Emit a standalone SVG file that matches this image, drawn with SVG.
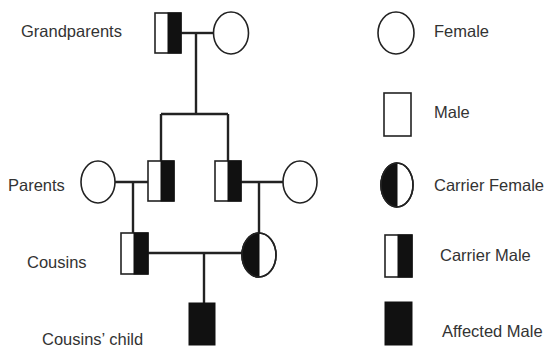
<svg xmlns="http://www.w3.org/2000/svg" width="550" height="347" viewBox="0 0 550 347">
<style>
.sh{fill:#fff;stroke:#222;stroke-width:1.6}
.bk{fill:#111;stroke:#111;stroke-width:1}
.ln{stroke:#222;stroke-width:2.4;fill:none}
text{font-family:"Liberation Sans",Arial,sans-serif;font-size:16.5px;fill:#333}
</style>
<rect width="550" height="347" fill="#fff"/>
<g id="connectors">
<line class="ln" x1="181" y1="33" x2="213" y2="33"/>
<line class="ln" x1="196" y1="33" x2="196" y2="114"/>
<line class="ln" x1="161" y1="114" x2="228" y2="114"/>
<line class="ln" x1="161" y1="114" x2="161" y2="161"/>
<line class="ln" x1="228" y1="114" x2="228" y2="161"/>
<line class="ln" x1="115" y1="182" x2="148" y2="182"/>
<line class="ln" x1="133" y1="182" x2="133" y2="233"/>
<line class="ln" x1="241" y1="182" x2="283" y2="182"/>
<line class="ln" x1="259" y1="182" x2="259" y2="233"/>
<line class="ln" x1="148" y1="253" x2="242" y2="253"/>
<line class="ln" x1="204" y1="253" x2="204" y2="303"/>
</g>
<g id="grandfather"><rect class="sh" x="155" y="13" width="26" height="40"/><rect class="bk" x="168" y="13" width="13" height="40"/></g>
<g id="grandmother"><ellipse class="sh" cx="231" cy="33" rx="17.5" ry="21"/></g>
<g id="parent-mother-left"><ellipse class="sh" cx="98" cy="182" rx="17" ry="21"/></g>
<g id="parent-father-left"><rect class="sh" x="148" y="161" width="26" height="40"/><rect class="bk" x="161" y="161" width="13" height="40"/></g>
<g id="parent-father-right"><rect class="sh" x="215" y="161" width="26" height="40"/><rect class="bk" x="228" y="161" width="13" height="40"/></g>
<g id="parent-mother-right"><ellipse class="sh" cx="300" cy="182" rx="17" ry="21"/></g>
<g id="cousin-male"><rect class="sh" x="121" y="233" width="27" height="41"/><rect class="bk" x="134" y="233" width="14" height="41"/></g>
<g id="cousin-female"><ellipse class="sh" cx="259" cy="255" rx="17" ry="22"/><path class="bk" d="M259,233 A17,22 0 0 0 259,277 Z"/><ellipse cx="259" cy="255" rx="17" ry="22" fill="none" stroke="#222" stroke-width="1.6"/></g>
<g id="cousins-child"><rect class="bk" x="189" y="303" width="26" height="42"/></g>
<g id="labels">
<text x="21" y="37">Grandparents</text>
<text x="8" y="191">Parents</text>
<text x="27" y="268">Cousins</text>
<text x="42" y="345">Cousins’ child</text>
</g>
<g id="legend-female"><ellipse class="sh" cx="396" cy="33" rx="18" ry="21"/><text x="434" y="37">Female</text></g>
<g id="legend-male"><rect class="sh" x="384" y="93" width="27" height="43"/><text x="434" y="118">Male</text></g>
<g id="legend-carrier-female"><ellipse class="sh" cx="397" cy="185" rx="16" ry="22"/><path class="bk" d="M397,163 A16,22 0 0 0 397,207 Z"/><ellipse cx="397" cy="185" rx="16" ry="22" fill="none" stroke="#222" stroke-width="1.6"/><text x="434" y="191">Carrier Female</text></g>
<g id="legend-carrier-male"><rect class="sh" x="385" y="235" width="27" height="42"/><rect class="bk" x="398" y="235" width="14" height="42"/><text x="440" y="261">Carrier Male</text></g>
<g id="legend-affected-male"><rect class="bk" x="385" y="302" width="27" height="43"/><text x="442" y="337">Affected Male</text></g>
</svg>
